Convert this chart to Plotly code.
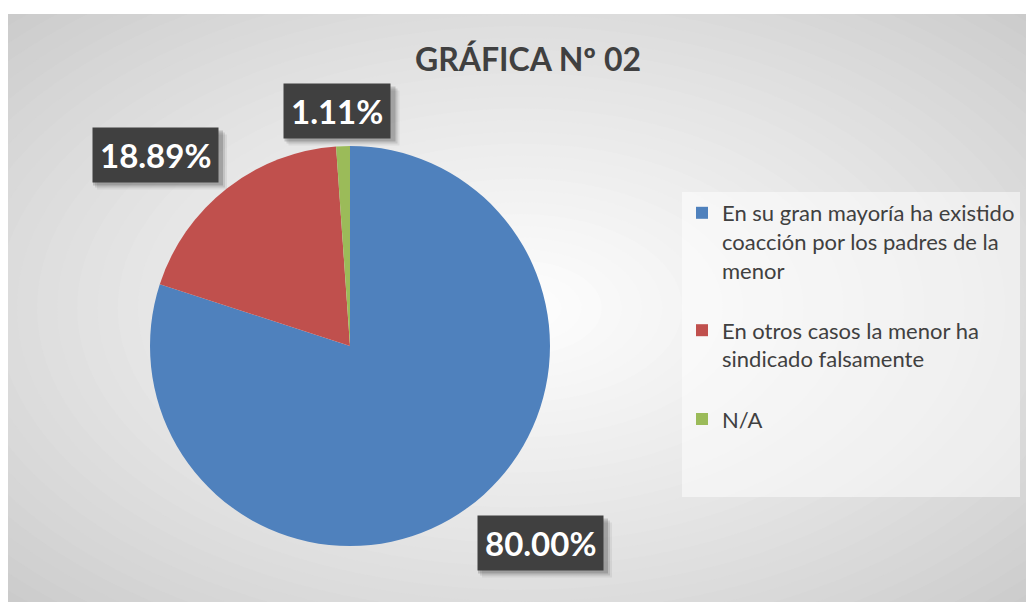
import plotly.graph_objects as go

labels = [
    "En su gran mayoría ha existido<br>coacción por los padres de la<br>menor<br> ",
    "En otros casos la menor ha<br>sindicado falsamente<br> ",
    "N/A<br> <br> ",
]
values = [80.00, 18.89, 1.11]
pct_text = ["80.00%", "18.89%", "1.11%"]
colors = ["#4F81BD", "#C0504D", "#9BBB59"]

W, H = 1034, 602


def px_x(x):
    return x / W


def px_y(y):
    return 1 - y / H


fig = go.Figure()
fig.add_trace(go.Pie(
    labels=labels,
    values=values,
    marker=dict(colors=colors, line=dict(width=0)),
    sort=False,
    direction="clockwise",
    rotation=0,
    textinfo="none",
    hoverinfo="skip",
    domain=dict(x=[px_x(142), px_x(542)], y=[px_y(538), px_y(138)]),
))

# radial grey-to-white background, built from stacked circles
shapes = []
steps = 40
cx, cy = px_x(513), px_y(300)
for i in range(steps):
    k = 1 - i / steps
    g = int(194 + (255 - 194) * (1 - k) ** 0.8)
    shapes.append(dict(
        type="circle", xref="paper", yref="paper", layer="below",
        x0=cx - 0.78 * k, x1=cx + 0.78 * k, y0=cy - 0.78 * k, y1=cy + 0.78 * k,
        fillcolor=f"rgb({g},{g},{g})", line=dict(width=0),
    ))
# white strip above the chart area
shapes.append(dict(type="rect", xref="paper", yref="paper", layer="below",
                   x0=-0.01, x1=1.01, y0=px_y(6), y1=1.01, fillcolor="white", line=dict(width=0)))

# data labels in dark boxes, with a soft drop shadow
label_pos = [(532, 535), (147, 147), (329, 103)]
box_w = [130, 130, 111]
box_h = 55
annotations = []
for txt, (x, y), bw in zip(pct_text, label_pos, box_w):
    for off, alpha in [(7, 0.06), (5, 0.1), (3, 0.16)]:
        shapes.append(dict(
            type="rect", xref="paper", yref="paper", layer="below",
            x0=px_x(x - bw / 2 + off), x1=px_x(x + bw / 2 + off),
            y0=px_y(y + box_h / 2 + off), y1=px_y(y - box_h / 2 + off),
            fillcolor=f"rgba(0,0,0,{alpha})", line=dict(width=0),
        ))
    annotations.append(dict(
        x=px_x(x), y=px_y(y), xref="paper", yref="paper",
        xanchor="center", yanchor="middle",
        text=f"<b>{txt}</b>", showarrow=False,
        font=dict(family="Lato", size=33, color="white"),
        bgcolor="#404040", borderpad=7,
    ))

fig.update_layout(
    width=W, height=H,
    margin=dict(l=0, r=0, t=0, b=0),
    paper_bgcolor="white",
    title=dict(text="<b>GRÁFICA Nº 02</b>", x=px_x(520), y=px_y(52),
               xanchor="center", yanchor="middle",
               font=dict(family="Lato", size=32, color="#404040")),
    legend=dict(
        x=px_x(674), y=px_y(184), xanchor="left", yanchor="top",
        bgcolor="rgba(255,255,255,0.5)", valign="top",
        font=dict(family="Lato", size=22, color="#404040"),
        itemwidth=30,
    ),
    shapes=shapes,
    annotations=annotations,
)

fig.write_html("out.html")
